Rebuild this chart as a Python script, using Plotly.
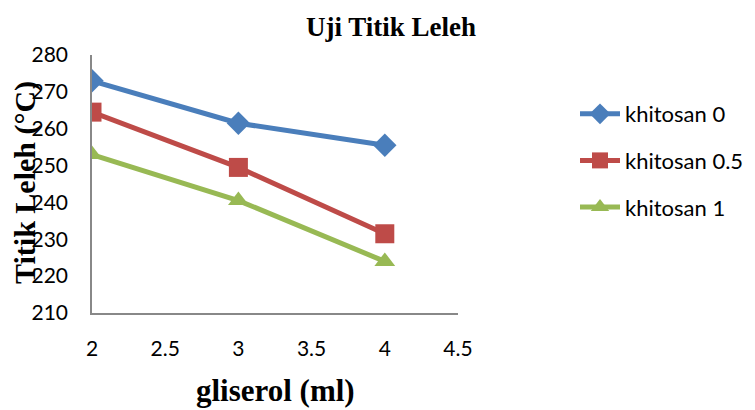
import plotly.graph_objects as go

# Melting point test data
gliserol = [2, 3, 4]
khitosan_0 = [273, 261.5, 255.5]
khitosan_05 = [264.5, 249.5, 231.5]
khitosan_1 = [253, 240.5, 224]
series_names = ["khitosan 0", "khitosan 0.5", "khitosan 1"]
colors = ["#4a7ebb", "#be4b48", "#98b954"]
symbols = ["diamond", "square", "triangle-up"]
marker_sizes = [18, 19, 18]

fig = go.Figure()
for i, (name, vals) in enumerate(zip(series_names, [khitosan_0, khitosan_05, khitosan_1])):
    fig.add_trace(go.Scatter(
        x=gliserol, y=vals, name=name, mode="lines+markers",
        legendgroup=name,
        line=dict(color=colors[i], width=5),
        marker=dict(symbol=symbols[i], size=marker_sizes[i], color=colors[i]),
    ))

L, R, T, B = 92, 297, 55, 97
W, H = 755, 410
PW, PH = W - L - R, H - T - B
tick_font = dict(family="Lato, Open Sans, sans-serif", size=21, color="black")
fig.update_layout(
    width=W, height=H,
    margin=dict(l=L, r=R, t=T, b=B, autoexpand=False),
    plot_bgcolor="white", paper_bgcolor="white",
    showlegend=True,
    legend=dict(x=(575 - L) / PW, y=1 - (93 - T) / PH, xanchor="left", yanchor="top",
                font=dict(family="Lato, Open Sans, sans-serif", size=22, color="black"),
                traceorder="grouped", tracegroupgap=15, itemwidth=40),
    xaxis=dict(range=[2, 4.5], tickvals=[2, 2.5, 3, 3.5, 4, 4.5],
               showgrid=False, showline=True, linecolor="#888", linewidth=1.5,
               zeroline=False, ticks="", ticklabelstandoff=16, tickfont=tick_font),
    yaxis=dict(range=[210, 280], tickvals=[210, 220, 230, 240, 250, 260, 270, 280],
               showgrid=False, showline=True, linecolor="#888", linewidth=1.5,
               zeroline=False, ticks="", ticklabelstandoff=18, tickfont=tick_font),
)

serif = "Liberation Serif, Times New Roman, serif"
fig.add_annotation(text="<b>Uji Titik Leleh</b>", xref="paper", yref="paper",
                   x=(391 - L) / PW, y=1 + (T - 27) / PH,
                   showarrow=False, xanchor="center", yanchor="middle",
                   font=dict(family=serif, size=27, color="black"))
fig.add_annotation(text="<b>gliserol (ml)</b>", xref="paper", yref="paper",
                   x=(275 - L) / PW, y=-(390 - (H - B)) / PH,
                   showarrow=False, xanchor="center", yanchor="middle",
                   font=dict(family=serif, size=31, color="black"))
fig.add_annotation(text="<b>Titik Leleh (°C)</b>", xref="paper", yref="paper",
                   x=-(L - 25) / PW, y=(H - B - 183) / PH,
                   showarrow=False, xanchor="center", yanchor="middle", textangle=-90,
                   font=dict(family=serif, size=30, color="black"))

fig.write_html("out.html")
